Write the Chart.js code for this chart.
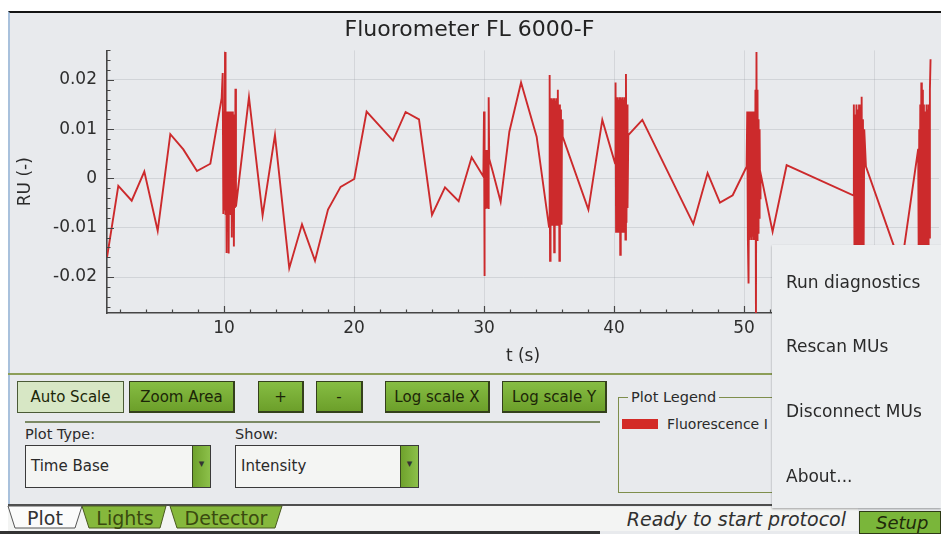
<!DOCTYPE html>
<html>
<head>
<meta charset="utf-8">
<script src="https://cdn.jsdelivr.net/npm/chart.js@4.4.1/dist/chart.umd.min.js"></script>
<style>
html, body { margin: 0; padding: 0; background: #fff; }
body { width: 941px; height: 534px; position: relative; overflow: hidden; font-family: "DejaVu Sans", sans-serif; color: #2a2a2a; }
#screen { position: absolute; left: 8px; top: 11px; width: 933px; height: 523px; background: #e8eaed; border-top: 2px solid #141414; border-left: 2px solid #a9c1dc; box-sizing: border-box; }
#plot { position: absolute; left: 0; top: 0; }
.hline { position: absolute; height: 2px; }
.btn { position: absolute; top: 381px; height: 32px; box-sizing: border-box; border: 1px solid #34401c; border-right-width: 2px; border-bottom-width: 2px; background: linear-gradient(#86bd43, #6c9f2a); color: #1c2608; font-size: 15px; display: flex; align-items: center; justify-content: center; }
.btn.on { background: #d7e7c5; border: 1.5px solid #4a5a36; }
.lbl { position: absolute; font-size: 14.5px; color: #2b2b2b; }
.combo { position: absolute; top: 445px; height: 43px; box-sizing: border-box; border: 1.5px solid #3a3a3a; background: #f4f5f3; font-size: 15px; line-height: 40px; padding-left: 5px; }
.combo .arr { position: absolute; right: 0; top: 0; bottom: 0; width: 17px; background: linear-gradient(90deg, #6fa22c, #8cc04a); border-left: 1px solid #3a4a20; text-align: center; line-height: 36px; font-size: 11px; color: #333; }
#group { position: absolute; left: 618px; top: 397px; width: 200px; height: 96px; border: 1.5px solid #7e8e4c; box-sizing: border-box; }
#group .ttl { position: absolute; left: 9px; top: -10px; background: #e8eaed; padding: 0 3px; font-size: 14.5px; line-height: 18px; }
#group .sw { position: absolute; left: 3px; top: 21px; width: 36px; height: 10px; background: #d32a26; }
#group .txt { position: absolute; left: 48px; top: 18px; font-size: 14px; white-space: nowrap; }
#menu { position: absolute; left: 772px; top: 245px; width: 169px; height: 263px; background: #eceef0; box-shadow: 0 1px 2px rgba(0,0,0,0.35); }
#menu div { position: absolute; left: 14px; font-size: 17px; color: #2a2a2a; line-height: 20px; }
#status { position: absolute; left: 600px; top: 507px; width: 258px; height: 24px; background: #f3f4f3; font-size: 19px; font-style: italic; color: #303030; line-height: 24px; text-align: right; padding-right: 12px; box-sizing: border-box; }
#setup { position: absolute; left: 859px; top: 511px; width: 82px; height: 23px; background: #7ab63a; border: 1.5px solid #2e3a16; box-sizing: border-box; font-size: 18px; font-style: italic; color: #1f2a0a; padding-left: 16px; line-height: 22px; }
</style>
</head>
<body>
<div id="screen"></div>
<canvas id="plot" width="941" height="372"></canvas>

<div class="hline" style="left:8px; top:373px; width:764px; background:#8c9e58;"></div>
<div class="btn on" style="left:17px; width:107px;">Auto Scale</div>
<div class="btn" style="left:129px; width:106px;">Zoom Area</div>
<div class="btn" style="left:258px; width:46px;">+</div>
<div class="btn" style="left:316px; width:47px;">-</div>
<div class="btn" style="left:385px; width:105px;">Log scale X</div>
<div class="btn" style="left:502px; width:105px;">Log scale Y</div>
<div class="hline" style="left:25px; top:421px; width:575px; background:#7b8a64;"></div>

<div class="lbl" style="left:25px; top:426px;">Plot Type:</div>
<div class="combo" style="left:25px; width:186px;">Time Base<span class="arr">&#9662;</span></div>
<div class="lbl" style="left:235px; top:426px;">Show:</div>
<div class="combo" style="left:235px; width:184px;">Intensity<span class="arr">&#9662;</span></div>

<div id="group">
  <span class="ttl">Plot Legend</span>
  <span class="sw"></span>
  <span class="txt">Fluorescence I</span>
</div>

<div class="hline" style="left:8px; top:504px; width:933px; background:#4e4e4e;"></div>
<svg style="position:absolute; left:0; top:500px;" width="600" height="34">
  <rect x="8" y="6" width="850" height="25" fill="#f3f4f3"/>
  <polygon points="8,6 82,6 75,28 15,28" fill="#fbfbfb" stroke="#555" stroke-width="1"/>
  <polygon points="82,6 166,6 160,28 89,28" fill="#86b83c" stroke="#4a5a20" stroke-width="1"/>
  <polygon points="170,6 282,6 275,28 177,28" fill="#86b83c" stroke="#4a5a20" stroke-width="1"/>
  <text x="45" y="25" font-family="DejaVu Sans" font-size="19" fill="#333" text-anchor="middle">Plot</text>
  <text x="125" y="25" font-family="DejaVu Sans" font-size="19" fill="#3a4a10" text-anchor="middle">Lights</text>
  <text x="226" y="25" font-family="DejaVu Sans" font-size="19" fill="#3a4a10" text-anchor="middle">Detector</text>
  <rect x="0" y="31" width="600" height="3" fill="#333"/>
</svg>
<div id="status">Ready to start protocol</div>
<div id="setup">Setup</div>

<div id="menu">
  <div style="top:27px;">Run diagnostics</div>
  <div style="top:91px;">Rescan MUs</div>
  <div style="top:156px;">Disconnect MUs</div>
  <div style="top:221px;">About...</div>
</div>

<script>
// axis ticks
var xTickValues = [10, 20, 30, 40, 50, 60];
var xTickLabels = ['10', '20', '30', '40', '50', '60'];
var yTickValues = [-0.02, -0.01, 0, 0.01, 0.02];
var yTickLabels = ['-0.02', '-0.01', '0', '0.01', '0.02'];

// time (s) and RU (-), bursts included point by point
var time = [
  1.0, 1.87, 2.9, 3.87, 4.9, 5.87, 6.87, 7.92, 8.95, 9.82,
  9.9, 9.95, 10.0, 10.04, 10.08, 10.12, 10.16, 10.2, 10.24, 10.28, 10.32, 10.36, 10.4,
  10.44, 10.48, 10.52, 10.56, 10.6, 10.64, 10.68, 10.72, 10.76, 10.8, 10.84, 10.88, 10.92,
  11.92, 12.97, 13.92, 15.02, 16.0, 17.0, 18.0, 18.97, 20.02, 20.97, 23.0, 23.97, 25.0,
  26.0, 27.0, 28.05, 29.05, 29.95,
  30.0, 30.03, 30.06, 30.09, 30.12, 30.15, 30.18, 30.21, 30.24, 30.27, 30.3, 30.33, 30.36, 30.4,
  30.67, 31.28, 31.95, 32.85, 34.05, 35.0,
  35.05, 35.08, 35.12, 35.16, 35.2, 35.24, 35.28, 35.32, 35.36, 35.4, 35.44, 35.48, 35.52,
  35.56, 35.6, 35.64, 35.68, 35.72, 35.76, 35.8, 35.84, 35.88, 35.92, 35.96, 36.0,
  36.05, 38.03, 39.1, 40.08,
  40.12, 40.16, 40.2, 40.24, 40.28, 40.32, 40.36, 40.4, 40.44, 40.48, 40.52, 40.56,
  40.6, 40.64, 40.68, 40.72, 40.76, 40.8, 40.84, 40.88, 40.92, 40.96, 41.0, 41.04,
  41.1, 42.18, 46.1, 47.2, 48.15, 49.13, 50.2,
  50.25, 50.3, 50.35, 50.4, 50.44, 50.48, 50.52, 50.56, 50.6, 50.64, 50.68, 50.72, 50.76,
  50.8, 50.84, 50.88, 50.92, 50.96, 51.0, 51.04, 51.08, 51.12, 51.16, 51.2, 51.24,
  51.27, 52.2, 53.28, 58.4,
  58.45, 58.5, 58.55, 58.6, 58.65, 58.7, 58.75, 58.8, 58.85, 58.9, 58.95, 59.0, 59.05,
  59.1, 59.15, 59.2, 59.25,
  59.38, 62.1,
  63.4, 63.44, 63.48, 63.52, 63.56, 63.6, 63.64, 63.68, 63.72, 63.76, 63.8, 63.84,
  63.88, 63.92, 63.96, 64.0, 64.04, 64.08, 64.12, 64.16, 64.2, 64.24, 64.3, 64.35
];
var ru = [
  -0.016, -0.0015, -0.0045, 0.0014, -0.0106, 0.009, 0.0059, 0.0015, 0.003, 0.0163,
  0.0214, -0.0072, 0.0136, -0.0065, 0.0257, -0.0074, 0.0136, -0.0151, 0.0136, -0.0074, 0.0134, -0.0152, 0.0136,
  -0.0072, 0.0135, -0.0074, 0.0136, -0.012, 0.0136, -0.0074, 0.013, -0.0138, 0.011, -0.006, 0.0182, -0.0057,
  0.0165, -0.0075, 0.0088, -0.0182, -0.0093, -0.0167, -0.0063, -0.0017, -0.0001, 0.0136, 0.0077, 0.0135, 0.012,
  -0.0074, -0.0018, -0.0046, 0.0043, 0.0004,
  0.0136, -0.0198, 0.0058, -0.006, 0.0055, -0.0058, 0.0058, -0.006, 0.005, -0.0055, 0.0058, -0.006, 0.0165, 0.004,
  0.0014, -0.0047, 0.0095, 0.0195, 0.0085, -0.0098,
  0.021, -0.0167, 0.0163, -0.0094, 0.0163, -0.009, 0.016, -0.0094, 0.0163, -0.015, 0.0163, -0.0094, 0.0158,
  -0.0094, 0.0163, -0.009, 0.018, -0.0094, 0.015, -0.0167, 0.015, -0.008, 0.014, -0.0094, 0.012,
  0.0085, -0.0063, 0.0119, 0.0031,
  0.0195, -0.0108, 0.0165, -0.01, 0.0165, -0.0108, 0.016, -0.0108, 0.0165, -0.0155, 0.0165, -0.0108,
  0.0162, -0.0105, 0.0165, -0.0108, 0.016, -0.01, 0.0165, -0.0124, 0.0212, -0.009, 0.015, -0.006,
  0.0088, 0.0119, -0.0092, 0.0011, -0.0049, -0.0034, 0.0024,
  0.0136, -0.0125, -0.0213, 0.0136, -0.0125, 0.013, -0.012, 0.0136, -0.0125, 0.0136, -0.0118, 0.0133, -0.0125,
  0.0136, -0.0125, 0.018, -0.029, 0.0257, -0.0125, 0.018, -0.011, 0.012, -0.008, 0.01, -0.004,
  0.0011, -0.0108, 0.0027, -0.0034,
  0.015, -0.017, 0.013, -0.0165, 0.015, -0.017, 0.014, -0.016, 0.015, -0.017, 0.0145, -0.0165, 0.0166,
  -0.017, 0.012, -0.016, 0.01,
  0.0024, -0.018,
  0.006, -0.017, 0.01, -0.0165, 0.015, -0.017, 0.0195, -0.016, 0.018, -0.017, 0.015, -0.0165,
  0.0136, -0.017, 0.0122, -0.016, 0.015, -0.017, 0.014, -0.015, 0.015, -0.012, 0.018, 0.0242
];

var fontFam = '"DejaVu Sans", sans-serif';
var axisColor = '#454545';

// small ticks drawn inward, like the instrument software
var innerTicks = {
  id: 'innerTicks',
  afterDatasetsDraw: function(chart) {
    var ctx = chart.ctx, a = chart.chartArea, xs = chart.scales.x, ys = chart.scales.y;
    ctx.save();
    ctx.strokeStyle = axisColor;
    ctx.lineWidth = 1.2;
    ctx.beginPath();
    for (var t = 2; t <= 64; t += 2) {
      var px = Math.round(xs.getPixelForValue(t)) + 0.5;
      var len = (t % 10 === 0) ? 7 : 3.5;
      ctx.moveTo(px, a.bottom); ctx.lineTo(px, a.bottom - len);
    }
    for (var k = -13; k <= 13; k++) {
      var py = Math.round(ys.getPixelForValue(k * 0.002)) + 0.5;
      if (py < a.top || py > a.bottom) continue;
      var l2 = (k % 5 === 0) ? 7 : 3.5;
      ctx.moveTo(a.left, py); ctx.lineTo(a.left + l2, py);
    }
    ctx.stroke();
    ctx.restore();
  }
};

var points = time.map(function(t, i) { return {x: t, y: ru[i]}; });

var ctx = document.getElementById('plot').getContext('2d');
var chart = new Chart(ctx, {
  type: 'line',
  data: {
    datasets: [{
      label: 'Fluorescence Intensity',
      data: points,
      borderColor: '#cc2a2c',
      borderWidth: 1.9,
      pointRadius: 0,
      tension: 0,
      fill: false
    }]
  },
  options: {
    responsive: false,
    animation: false,
    layout: {padding: {left: 0, right: 2, top: 0, bottom: 0}},
    plugins: {
      legend: {display: false},
      tooltip: {enabled: false},
      title: {
        display: true,
        text: 'Fluorometer FL 6000-F',
        color: '#232323',
        font: {family: fontFam, size: 22, weight: 'normal'},
        padding: {top: 17, bottom: 7}
      }
    },
    scales: {
      x: {
        type: 'linear',
        min: 1,
        max: 65,
        afterBuildTicks: function(s) { s.ticks = xTickValues.map(function(v) { return {value: v}; }); },
        afterFit: function(s) { s.height = 59; },
        ticks: {
          color: '#2e2e2e',
          font: {family: fontFam, size: 17},
          padding: 5,
          callback: function(v) { return xTickLabels[xTickValues.indexOf(v)]; }
        },
        grid: {color: 'rgba(120,125,135,0.18)', drawTicks: false},
        border: {display: true, color: axisColor, width: 1.6},
        title: {display: true, text: 't (s)', color: '#2a2a2a', font: {family: fontFam, size: 17}, padding: {top: 4, bottom: 5}}
      },
      y: {
        type: 'linear',
        min: -0.0273,
        max: 0.026,
        afterBuildTicks: function(s) { s.ticks = yTickValues.map(function(v) { return {value: v}; }); },
        afterFit: function(s) { s.width = 107; },
        ticks: {
          color: '#2e2e2e',
          font: {family: fontFam, size: 17},
          padding: 10,
          callback: function(v) { return yTickLabels[yTickValues.indexOf(v)]; }
        },
        grid: {color: 'rgba(120,125,135,0.2)', drawTicks: false},
        border: {display: true, color: axisColor, width: 1.6},
        title: {display: true, text: 'RU (-)', color: '#2a2a2a', font: {family: fontFam, size: 17}, padding: {top: 15, bottom: 0}}
      }
    }
  },
  plugins: [innerTicks]
});
</script>
</body>
</html>
